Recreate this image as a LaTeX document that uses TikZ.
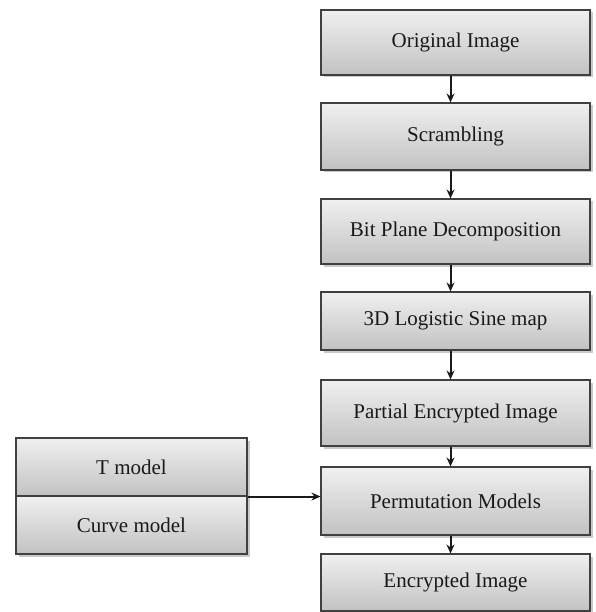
\documentclass[tikz,border=0pt]{standalone}
\usepackage{fontspec}
\setmainfont{Liberation Serif}
\usetikzlibrary{arrows.meta,shadows}

\begin{document}
\begin{tikzpicture}[x=1pt,y=-1pt]
                        \tikzstyle{stage}=[draw=black!75, line width=1.1pt, top color=black!6, bottom color=black!24,
                            drop shadow={shadow xshift=2.5pt, shadow yshift=-2.5pt, fill=black!35, opacity=0.6},
                            inner sep=0pt, minimum width=269pt, text=black!90, font=\fontsize{21}{24}\selectfont]
                        \tikzstyle{side}=[stage, minimum width=231pt, minimum height=58pt]
                        \tikzstyle{flowarrow}=[draw=black!90, line width=2pt, -{Stealth[length=9pt,width=8pt]}]
                        \useasboundingbox (0,0) rectangle (595,612);
                        % main column
                        \node[stage, minimum height=65pt] (orig) at (455.5,42.5) {Original Image};
                        \node[stage, minimum height=67pt] (scram) at (455.5,136.5) {Scrambling};
                        \node[stage, minimum height=65pt] (bitplane) at (455.5,231.5) {Bit Plane Decomposition};
                        \node[stage, minimum height=58pt] (logsine) at (455.5,321) {3D Logistic Sine map};
                        \node[stage, minimum height=66pt] (partial) at (455.5,413) {Partial Encrypted Image};
                        \node[stage, minimum height=68pt] (perm) at (455.5,501) {Permutation Models};
                        \node[stage, minimum height=57pt] (enc) at (455.5,582.5) {Encrypted Image};
                        % models on the left
                        \node[side] (tmodel) at (131.5,467) {T model};
                        \node[side] (curve) at (131.5,525) {Curve model};
                        % arrows
                        \draw[flowarrow] ([xshift=-5pt]orig.south) -- ([xshift=-5pt]scram.north);
                        \draw[flowarrow] ([xshift=-5pt]scram.south) -- ([xshift=-5pt]bitplane.north);
                        \draw[flowarrow] ([xshift=-5pt]bitplane.south) -- ([xshift=-5pt]logsine.north);
                        \draw[flowarrow] ([xshift=-5pt]logsine.south) -- ([xshift=-5pt]partial.north);
                        \draw[flowarrow] ([xshift=-5pt]partial.south) -- ([xshift=-5pt]perm.north);
                        \draw[flowarrow] ([xshift=-5pt]perm.south) -- ([xshift=-5pt]enc.north);
                        \draw[flowarrow] (tmodel.south east) -- (tmodel.south east -| perm.west);
                    \end{tikzpicture}
\end{document}
